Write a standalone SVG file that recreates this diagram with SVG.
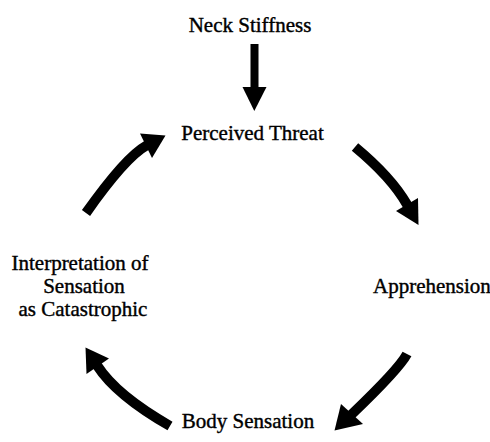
<svg xmlns="http://www.w3.org/2000/svg" width="490" height="442" viewBox="0 0 490 442">
<style>
.lbl{font-family:"Liberation Serif","Times New Roman",serif;font-size:21px;fill:#000;stroke:#000;stroke-width:0.4px}
.shaft{fill:none;stroke:#000;stroke-width:10;stroke-linecap:butt}
.head{fill:#000}
</style>
<rect width="490" height="442" fill="#fff"/>
<g id="connectors">
  <g id="arrow-neck-threat">
    <rect x="250.5" y="44" width="8" height="45" fill="#000"/>
    <polygon class="head" points="242.5,87 266.5,87 254.3,111"/>
  </g>
  <g id="arrow-threat-apprehension">
    <path class="shaft" d="M355,147 Q391.3,177.1 407,204.5 L409,208"/>
    <polygon class="head" points="396,211 418,198 418.5,225"/>
  </g>
  <g id="arrow-apprehension-body">
    <path class="shaft" d="M407,354 Q399,369 352,414 L349,417"/>
    <polygon class="head" points="341,404 363,424 334.5,430.5"/>
  </g>
  <g id="arrow-body-interpretation">
    <path class="shaft" d="M170,426 Q116.1,395 97.5,366 L95.3,362.6"/>
    <polygon class="head" points="109,358.5 86.5,374 85.5,347.5"/>
  </g>
  <g id="arrow-interpretation-threat">
    <path class="shaft" d="M86,213 Q125.4,157.2 146.5,145.5 L150,143.6"/>
    <polygon class="head" points="140,133.5 152,158 165.5,135.5"/>
  </g>
</g>
<g id="node-neck">
  <text class="lbl" x="250" y="32" text-anchor="middle">Neck Stiffness</text>
</g>
<g id="node-threat">
  <text class="lbl" x="252.5" y="140" text-anchor="middle">Perceived Threat</text>
</g>
<g id="node-apprehension">
  <text class="lbl" x="373" y="293">Apprehension</text>
</g>
<g id="node-body">
  <text class="lbl" x="248" y="428" text-anchor="middle">Body Sensation</text>
</g>
<g id="node-interpretation">
  <text class="lbl" text-anchor="middle"><tspan x="80" y="270">Interpretation of</tspan><tspan x="84" y="293">Sensation</tspan><tspan x="83" y="316">as Catastrophic</tspan></text>
</g>
</svg>
